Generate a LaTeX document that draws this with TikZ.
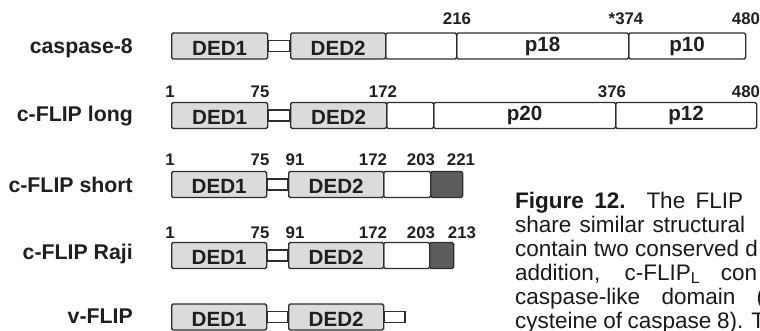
\documentclass[tikz,border=0pt]{standalone}
\usepackage{fontspec}
\setmainfont{Liberation Sans}
\begin{document}
\begin{tikzpicture}[x=1pt,y=-1pt,
    dom/.style={draw=black!82,line width=1.3pt,rounded corners=1.5pt,minimum height=26pt,inner sep=0pt,anchor=west,font=\fontsize{20.6}{20.6}\selectfont\bfseries,text=black!88},
    ded/.style={dom,fill=black!14,text height=18.5pt,text depth=0pt},
    tail/.style={dom,fill=black!64},
    link/.style={draw=black!82,line width=1.3pt},
    num/.style={font=\fontsize{16.8}{16.8}\selectfont\bfseries,inner sep=0pt,anchor=base,text=black!88},
    protname/.style={font=\fontsize{21.3}{21.3}\selectfont\bfseries,inner sep=0pt,anchor=base east,text=black!88},
    captext/.style={font=\fontsize{22.5}{22.5}\selectfont,inner sep=0pt,anchor=base west,text=black!90}]
\useasboundingbox (0,0) rectangle (760,330);

% caspase-8
\node[protname] (nc8) at (133,53) {caspase-8};
\node[ded,minimum width=96pt] (c8ded1) at (171,46) {DED1};
\node[ded,minimum width=95pt] (c8ded2) at (290,46) {DED2};
\node[dom,minimum width=71pt] (c8pro) at (385,46) {};
\node[dom,minimum width=172pt] (c8p18) at (456,46) {p18};
\node[dom,minimum width=117pt] (c8p10) at (628,46) {p10};
\draw[link] ([yshift=5.5pt]c8ded1.east) rectangle ([yshift=-5.5pt]c8ded2.west);
\foreach \x/\t in {457/216,626/*374,746/480} { \node[num] at (\x,24) {\t}; }

% c-FLIP long
\node[protname] (nfl) at (133,121) {c-FLIP long};
\node[ded,minimum width=96pt] (flded1) at (171,115.5) {DED1};
\node[ded,minimum width=96pt] (flded2) at (290,115.5) {DED2};
\node[dom,minimum width=47pt] (flpro) at (386,115.5) {};
\node[dom,minimum width=182pt] (flp20) at (433,115.5) {p20};
\node[dom,minimum width=141pt] (flp12) at (615,115.5) {p12};
\draw[link] ([yshift=5.5pt]flded1.east) rectangle ([yshift=-5.5pt]flded2.west);
\foreach \x/\t in {170/1,260/75,383/172,612/376,746/480} { \node[num] at (\x,97) {\t}; }

% c-FLIP short
\node[protname] (nfs) at (133,192) {c-FLIP short};
\node[ded,minimum width=95pt] (fsded1) at (171,184.5) {DED1};
\node[ded,minimum width=95pt] (fsded2) at (288,184.5) {DED2};
\node[dom,minimum width=47pt] (fsmid) at (383,184.5) {};
\node[tail,minimum width=32pt] (fsend) at (430,184.5) {};
\draw[link] ([yshift=5.5pt]fsded1.east) rectangle ([yshift=-5.5pt]fsded2.west);
\foreach \x/\t in {170/1,260/75,295/91,373/172,421/203,461/221} { \node[num] at (\x,165) {\t}; }

% c-FLIP Raji
\node[protname] (nfr) at (133,259) {c-FLIP Raji};
\node[ded,minimum width=95pt] (frded1) at (171,255.5) {DED1};
\node[ded,minimum width=95pt] (frded2) at (288,255.5) {DED2};
\node[dom,minimum width=46pt] (frmid) at (383,255.5) {};
\node[tail,minimum width=24pt] (frend) at (429,255.5) {};
\draw[link] ([yshift=5.5pt]frded1.east) rectangle ([yshift=-5.5pt]frded2.west);
\foreach \x/\t in {170/1,260/75,295/91,373/172,421/203,462/213} { \node[num] at (\x,238) {\t}; }

% v-FLIP
\node[protname] (nv) at (133,323) {v-FLIP};
\node[ded,minimum width=95pt] (vded1) at (171,317) {DED1};
\node[ded,minimum width=95pt] (vded2) at (288,317) {DED2};
\coordinate (vend) at (405,317);
\draw[link] ([yshift=5.5pt]vded1.east) rectangle ([yshift=-5.5pt]vded2.west);
\draw[link] ([yshift=5.5pt]vded2.east) rectangle ([yshift=-5.5pt]vend);

% caption
\node[captext] (cap1) at (515,208) {\makebox[228pt][s]{\textbf{Figure 12.} The FLIP}};
\node[captext] (cap2) at (515,232) {\makebox[230pt][s]{share similar structural}};
\node[captext] (cap3) at (515,256) {contain two conserved d};
\node[captext] (cap4) at (515,280) {\makebox[242pt][s]{addition, c-FLIP\textsubscript{L} con}};
\node[captext] (cap5) at (515,304) {\makebox[249pt][s]{caspase-like domain (}};
\node[captext] (cap6) at (515,328) {\makebox[250pt][s]{cysteine of caspase 8). T}};
\end{tikzpicture}
\end{document}
